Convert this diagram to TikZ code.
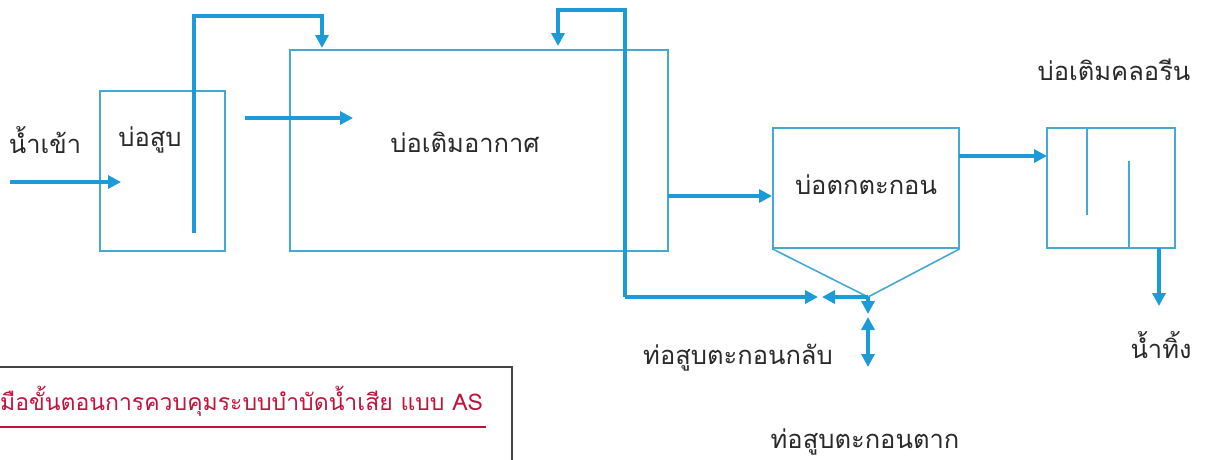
\documentclass[tikz,border=0pt]{standalone}
\usepackage{fontspec}
\newfontfamily\thai[Script=Thai]{Loma}
\usetikzlibrary{arrows.meta}
\definecolor{pipec}{HTML}{1B9BD7}
\definecolor{tankc}{HTML}{45A9D3}
\definecolor{txtc}{HTML}{2A2A2A}
\definecolor{titlered}{HTML}{C0143C}
\definecolor{framec}{HTML}{444444}
\begin{document}
\begin{tikzpicture}[x=1pt,y=-1pt,
  tank/.style={draw=tankc, line width=1.6pt, inner sep=0pt},
  tankline/.style={draw=tankc, line width=1.6pt},
  pipe/.style={draw=pipec, line width=4pt, line join=miter},
  flow/.style={pipe, -{Triangle[length=13pt,width=13pt]}},
  flowboth/.style={pipe, {Triangle[length=13pt,width=13pt]}-{Triangle[length=13pt,width=13pt]}},
  lbl/.style={text=txtc, font=\thai\fontsize{25.5}{28}\selectfont, inner sep=0pt}]
\fill[white] (0,0) rectangle (1208,459);
\useasboundingbox (0,0) rectangle (1208,459);
\clip (0,0) rectangle (1208,459);

% tanks
\node[tank, minimum width=125pt, minimum height=160pt] (sump) at (162.5,171) {};
\node[tank, minimum width=378pt, minimum height=201pt] (aer) at (479,150.5) {};
\node[tank, minimum width=186pt, minimum height=120pt] (set) at (866,188) {};
\node[tank, minimum width=128pt, minimum height=120pt] (chl) at (1111,188) {};
\coordinate (tip) at (868,297);
\draw[tankline] (set.south west) -- (tip) -- (set.south east);
\coordinate (b1t) at (1087,128); \coordinate (b1b) at (1087,215);
\coordinate (b2t) at (1129,161); \coordinate (b2b) at (1129,248);
\draw[tankline] (b1t) -- (b1b);
\draw[tankline] (b2t) -- (b2b);

% labels
\node[lbl] (lin) at (45,140) {น้ำเข้า};
\node[lbl] (lsump) at (150,140) {บ่อสูบ};
\node[lbl] (laer) at (465,142) {บ่อเติมอากาศ};
\node[lbl] (lset) at (866,185) {บ่อตกตะกอน};
\node[lbl] (lchl) at (1114,70) {บ่อเติมคลอรีน};
\node[lbl] (lout) at (1161,345) {น้ำทิ้ง};
\node[lbl] (lret) at (738,358) {ท่อสูบตะกอนกลับ};
\node[lbl] (ldry) at (865,442) {ท่อสูบตะกอนตาก};

% flows
\coordinate (inS) at (10,182); \coordinate (inE) at (121,182);
\draw[flow] (inS) -- (inE);
\coordinate (p1) at (194,233); \coordinate (p2) at (194,16); \coordinate (p3) at (322,16); \coordinate (p4) at (322,48);
\draw[flow] (p1) -- (p2) -- (p3) -- (p4);
\coordinate (a1) at (245,118); \coordinate (a2) at (353,118);
\draw[flow] (a1) -- (a2);
\coordinate (r0) at (625,297); \coordinate (r1) at (625,10); \coordinate (r2) at (558,10); \coordinate (r3) at (558,46);
\coordinate (rE) at (818,297); \coordinate (jE) at (822,297);
\draw[flow] (r0) -- (r1) -- (r2) -- (r3);
\draw[flow] (r0) -- (rE);
\draw[flow] (tip) -- (jE);
\coordinate (d1) at (868,314); \coordinate (d2) at (868,317); \coordinate (d3) at (868,367);
\draw[flow] (tip) -- (d1);
\draw[flowboth] (d2) -- (d3);
\coordinate (s1) at (668,196); \coordinate (s2) at (772,196);
\draw[flow] (s1) -- (s2);
\coordinate (c1) at (959,156); \coordinate (c2) at (1047,156);
\draw[flow] (c1) -- (c2);
\coordinate (o1) at (1159,248); \coordinate (o2) at (1159,306);
\draw[flow] (o1) -- (o2);

% note frame
\coordinate (f0) at (-5,367); \coordinate (f1) at (512,367); \coordinate (f2) at (512,470);
\draw[framec, line width=2pt] (f0) -- (f1) -- (f2);
\node[anchor=west, text=titlered, font=\thai\fontsize{23}{27}\selectfont, inner sep=0pt] (title) at (0,401) {มือขั้นตอนการควบคุมระบบบำบัดน้ำเสีย แบบ AS};
\draw[titlered, line width=1.2pt] (0,427) -- (486,427);
\end{tikzpicture}
\end{document}
